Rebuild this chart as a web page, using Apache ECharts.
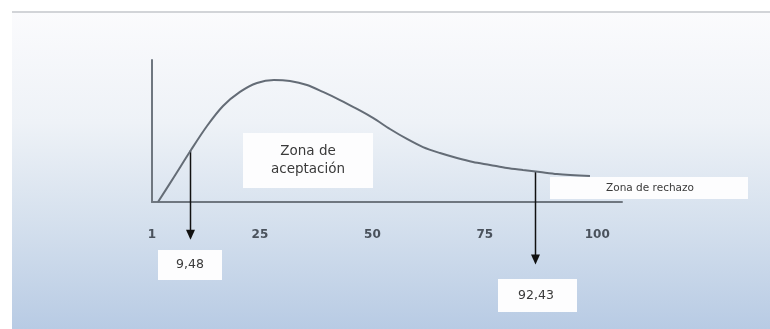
<!DOCTYPE html>
<html>
<head>
<meta charset="utf-8">
<script src="https://cdn.jsdelivr.net/npm/echarts@6/dist/echarts.min.js"></script>
<style>
html,body{margin:0;padding:0;background:#fff;}
#c{width:770px;height:329px;}
</style>
</head>
<body>
<div id="c"></div>
<script>
// Curve (schematic density)
const curveX = [2.33, 5.89, 9.67, 13.23, 16.79, 20.56, 24.34, 28.12, 31.68, 35.46, 39.02, 42.80, 46.58, 50.13, 53.91, 57.69, 61.25, 65.03, 68.81, 72.37, 76.15, 79.92, 83.48, 87.26, 91.04, 98.38];
const curveY = [0, 17.6, 36.6, 53.5, 67.6, 77.5, 83.8, 85.9, 85.2, 82.4, 77.5, 71.8, 65.5, 59.2, 51.4, 44.4, 38.7, 34.5, 31.0, 28.2, 26.1, 23.9, 22.5, 21.1, 19.7, 18.3];
// x tick labels
const tickValues = [1, 25, 50, 75, 100];
// Critical-value arrows (position on the drawn axis, top on the curve, tip below axis)
const arrowLabels = ['9,48', '92,43'];
const arrowX = [9.48, 86.1];
const arrowTop = [36.4, 21.4];
const arrowTip = [-26.5, -44];
const zoneLabels = ['Zona de\naceptación', 'Zona de rechazo'];

const chart = echarts.init(document.getElementById('c'));
const xMin = 1, xMax = 105.5;

const option = {
  backgroundColor: 'transparent',
  animation: false,
  grid: {left: 152, width: 470, top: 60, height: 142, outerBoundsMode: 'none', containLabel: false},
  xAxis: {
    type: 'value', min: xMin, max: xMax,
    axisLine: {lineStyle: {color: '#6f7780', width: 2}},
    axisTick: {show: false},
    splitLine: {show: false},
    axisLabel: {
      customValues: tickValues,
      margin: 27,
      color: '#4a525c',
      fontFamily: 'DejaVu Sans',
      fontSize: 12,
      fontWeight: 'bold'
    }
  },
  yAxis: {
    type: 'value', min: 0, max: 100,
    axisLine: {show: true, lineStyle: {color: '#6f7780', width: 2}},
    axisTick: {show: false},
    axisLabel: {show: false},
    splitLine: {show: false}
  },
  graphic: [
    {
      type: 'rect', z: -10, silent: true,
      shape: {x: 12, y: 11, width: 758, height: 318},
      style: {
        fill: new echarts.graphic.LinearGradient(0, 0, 0, 1, [
          {offset: 0, color: '#fbfbfd'},
          {offset: 0.35, color: '#eef2f7'},
          {offset: 0.65, color: '#d6e1ee'},
          {offset: 1, color: '#b8cbe4'}
        ])
      }
    },
    {
      type: 'rect', z: -9, silent: true,
      shape: {x: 12, y: 11, width: 758, height: 2},
      style: {fill: '#d2d4d8'}
    },
    {
      type: 'group', z: 10,
      children: [
        {type: 'rect', shape: {x: 243, y: 133, width: 130, height: 55}, style: {fill: '#fdfdfe'}},
        {type: 'text', style: {x: 308, y: 160, text: zoneLabels[0], fill: '#3a3a3a', font: '13.5px "DejaVu Sans"', align: 'center', verticalAlign: 'middle', lineHeight: 18}},
        {type: 'rect', shape: {x: 550, y: 177, width: 198, height: 22}, style: {fill: '#fdfdfe'}},
        {type: 'text', style: {x: 650, y: 188, text: zoneLabels[1], fill: '#3a3a3a', font: '10.5px "DejaVu Sans"', align: 'center', verticalAlign: 'middle'}},
        {type: 'rect', shape: {x: 158, y: 250, width: 64, height: 30}, style: {fill: '#fdfdfe'}},
        {type: 'text', style: {x: 190, y: 265, text: arrowLabels[0], fill: '#3a3a3a', font: '12.5px "DejaVu Sans"', align: 'center', verticalAlign: 'middle'}},
        {type: 'rect', shape: {x: 498, y: 279, width: 79, height: 33}, style: {fill: '#fdfdfe'}},
        {type: 'text', style: {x: 536, y: 296, text: arrowLabels[1], fill: '#3a3a3a', font: '12.5px "DejaVu Sans"', align: 'center', verticalAlign: 'middle'}}
      ]
    }
  ],
  series: [
    {
      type: 'line',
      name: 'densidad',
      data: curveX.map((x, i) => [x, curveY[i]]),
      smooth: 0.3,
      symbol: 'none',
      clip: false,
      lineStyle: {color: '#646c76', width: 2}
    },
    {
      type: 'custom',
      name: 'flechas',
      clip: false,
      silent: true,
      data: arrowX.map((x, i) => [x, arrowTop[i], arrowTip[i]]),
      renderItem: function (params, api) {
        const top = api.coord([api.value(0), api.value(1)]);
        const tip = api.coord([api.value(0), api.value(2)]);
        const x = Math.round(tip[0]) + 0.5;
        return {
          type: 'group',
          children: [
            {type: 'line', shape: {x1: x, y1: top[1], x2: x, y2: tip[1] - 8}, style: {stroke: '#111', lineWidth: 1.5}},
            {type: 'polygon', shape: {points: [[x - 4.5, tip[1] - 10], [x + 4.5, tip[1] - 10], [x, tip[1]]]}, style: {fill: '#111'}}
          ]
        };
      }
    }
  ]
};
chart.setOption(option);
</script>
</body>
</html>
